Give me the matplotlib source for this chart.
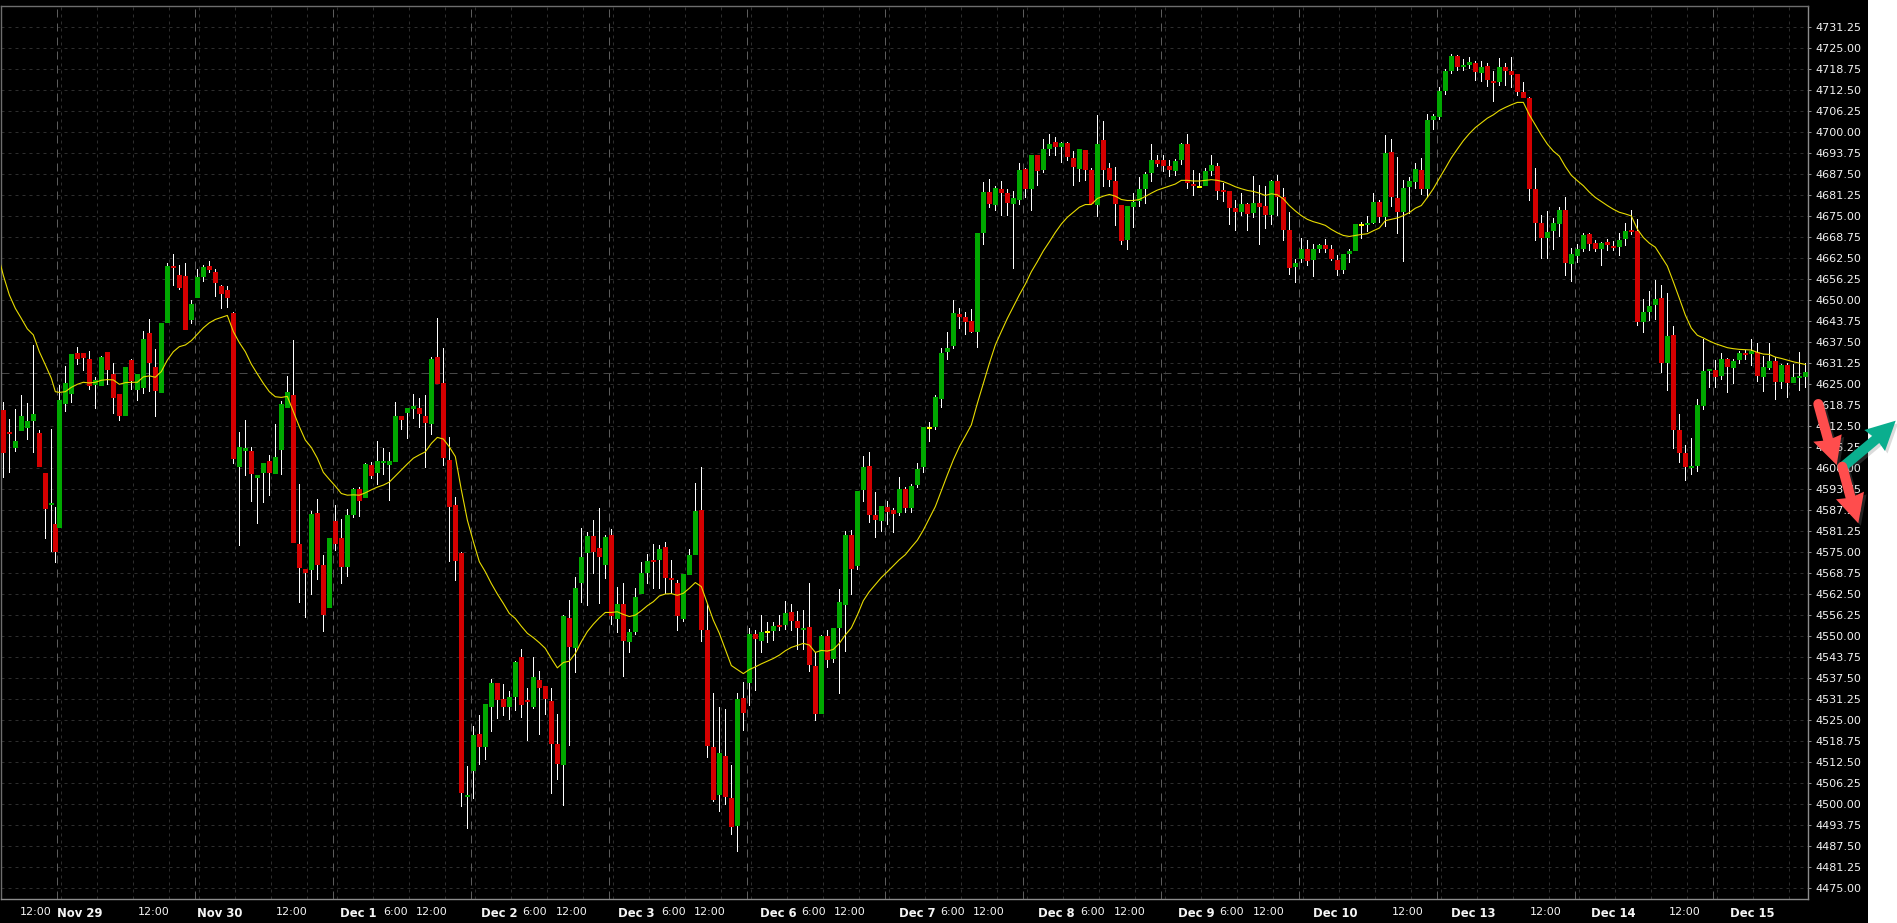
import numpy as np
import matplotlib
matplotlib.use("Agg")
import matplotlib.pyplot as plt
from matplotlib.lines import Line2D
from matplotlib.patches import Polygon, Rectangle

# ---------- data ----------
directions = ("RRGGGGRRGR" "GGGRRRGGRR" "RGRGGRRGGR" "RRGGGRRRRR" "GGRGGRGGGR"
              "RRGRRGRRGG" "RGRGGGGRGG" "RRGRRRRRGG" "RGGRRGGRRG" "RRRRGRGGGR"
              "RGRGRGGGGR" "GRRRGGGRRR" "GRRGRGRGYG" "RGRRGRRGRG" "GGRGGRRGRR"
              "GRGGGYGGGG" "RRRGGRGRRG" "GRGRGGRGRR" "GRRGRRRRGG" "GGGRRRGGRR"
              "YGGRRRRGRG" "RRGRRRGGRG" "GRRRGGGYGG" "RGRRGGGRGG" "GGGRGGRGRR"
              "GRRRRRRRGG" "GRGGGRRGRR" "GGRRGGGRGR" "RRGGGGRGRG" "GRGRGGRGRG"
              "GG")

body_top = [
 4617.4,4610.9,4608.1,4615.6,4614.1,4616.2,4610.5,4598.6,4589.7,4583.4,
 4620.3,4625.4,4634.0,4634.3,4634.3,4632.5,4626.3,4633.1,4634.6,4628.1,
 4622.1,4630.2,4632.2,4628.1,4638.5,4640.3,4630.2,4643.2,4660.2,4660.2,
 4657.5,4657.2,4648.9,4656.9,4659.9,4660.2,4658.4,4654.3,4653.1,4646.2,
 4606.3,4606.0,4605.2,4598.0,4601.6,4602.2,4603.4,4619.1,4622.7,4621.8,
 4577.5,4570.0,4586.4,4586.7,4571.2,4579.3,4584.3,4579.3,4586.1,4593.9,
 4593.9,4601.3,4601.0,4602.2,4602.2,4602.2,4615.6,4615.6,4618.0,4618.5,
 4618.0,4615.6,4632.5,4633.1,4625.4,4602.5,4589.1,4574.8,4502.8,4520.6,
 4520.9,4529.9,4536.1,4536.1,4531.3,4531.9,4542.4,4543.8,4531.0,4537.9,
 4537.0,4535.2,4530.7,4517.9,4556.0,4555.5,4564.4,4573.6,4579.9,4579.9,
 4576.3,4579.6,4580.2,4559.6,4559.6,4551.3,4561.7,4568.8,4572.4,4572.7,
 4576.0,4576.6,4567.3,4565.9,4568.5,4574.2,4587.3,4587.6,4551.9,4517.1,
 4515.3,4514.4,4501.9,4531.3,4531.6,4550.7,4550.7,4551.3,4551.5,4553.1,
 4553.4,4556.9,4557.2,4554.6,4552.5,4552.8,4541.2,4550.1,4550.1,4552.5,
 4560.2,4580.2,4580.2,4593.2,4600.4,4600.7,4586.1,4588.8,4588.5,4587.6,
 4593.8,4593.8,4594.7,4599.8,4612.3,4612.3,4621.2,4634.3,4635.8,4646.2,
 4645.9,4645.0,4643.8,4670.0,4682.2,4682.2,4683.4,4683.1,4681.9,4680.4,
 4688.8,4689.1,4693.2,4693.2,4695.0,4696.5,4697.1,4696.8,4696.8,4692.3,
 4695.0,4694.7,4688.8,4696.5,4697.7,4689.4,4685.5,4678.4,4678.1,4679.3,
 4683.1,4687.6,4691.8,4691.8,4691.8,4690.0,4691.5,4696.5,4696.5,4684.6,
 4684.0,4688.5,4690.3,4690.0,4682.8,4682.5,4677.5,4678.7,4678.7,4679.0,
 4679.0,4678.1,4685.5,4685.5,4680.7,4670.9,4661.1,4665.3,4665.3,4665.3,
 4666.5,4666.5,4665.3,4662.0,4663.8,4664.7,4672.7,4672.7,4673.0,4679.3,
 4679.3,4693.8,4694.1,4680.5,4683.4,4685.5,4689.1,4688.8,4703.7,4704.9,
 4712.3,4718.2,4722.7,4722.7,4720.0,4720.9,4720.6,4719.4,4719.7,4715.3,
 4719.4,4719.4,4718.2,4717.4,4712.0,4710.2,4683.1,4673.0,4670.3,4673.0,
 4676.9,4676.9,4663.8,4665.3,4669.4,4669.7,4667.1,4667.1,4667.4,4666.2,
 4668.0,4670.6,4670.9,4670.6,4646.5,4648.3,4650.4,4650.7,4639.4,4639.7,
 4611.4,4604.6,4600.7,4618.9,4629.0,4629.6,4629.3,4632.5,4632.5,4632.0,
 4634.3,4634.3,4634.9,4634.6,4630.2,4632.0,4632.0,4630.8,4630.8,4627.2,
 4627.5,4628.7]

body_bottom = [
 4604.7,4610.2,4606.0,4611.1,4612.0,4614.1,4600.4,4587.9,4589.1,4575.1,
 4582.2,4619.1,4622.1,4632.5,4632.8,4624.5,4624.8,4624.5,4629.3,4620.9,
 4615.6,4615.6,4625.9,4623.3,4623.9,4631.3,4623.0,4622.4,4643.2,4659.6,
 4653.7,4641.2,4644.1,4650.7,4656.9,4659.0,4655.2,4651.9,4650.7,4602.8,
 4600.4,4605.2,4598.3,4597.1,4598.6,4598.6,4598.3,4605.5,4618.0,4577.8,
 4570.3,4568.9,4569.7,4571.2,4556.4,4558.4,4577.5,4570.6,4570.6,4586.1,
 4590.3,4591.2,4597.7,4598.6,4601.6,4601.0,4601.9,4614.4,4616.5,4617.7,
 4616.2,4613.5,4613.2,4625.1,4603.1,4588.5,4572.4,4503.4,4502.2,4509.9,
 4517.1,4517.1,4529.0,4531.0,4529.0,4529.0,4531.9,4529.6,4530.4,4529.0,
 4534.6,4531.3,4517.9,4512.0,4511.7,4546.8,4546.5,4565.9,4574.8,4575.1,
 4573.6,4571.2,4556.0,4555.2,4548.6,4548.3,4551.3,4562.6,4568.8,4572.1,
 4572.7,4567.3,4566.8,4556.0,4555.2,4568.2,4574.2,4551.9,4517.4,4501.3,
 4502.8,4502.2,4493.2,4493.6,4527.2,4536.1,4549.2,4548.6,4551.0,4551.6,
 4552.8,4553.4,4554.6,4552.5,4551.9,4541.5,4526.9,4526.9,4543.0,4543.3,
 4552.5,4559.3,4570.0,4570.9,4593.5,4586.1,4584.6,4584.3,4587.0,4586.4,
 4586.7,4588.2,4588.2,4595.0,4600.4,4611.7,4612.3,4620.6,4634.6,4636.4,
 4645.0,4643.5,4640.6,4640.6,4670.0,4678.7,4678.4,4681.9,4679.0,4678.7,
 4679.9,4683.1,4683.1,4688.5,4688.8,4695.0,4695.6,4695.6,4692.6,4689.7,
 4689.1,4688.8,4678.7,4678.4,4688.8,4685.8,4678.7,4667.6,4667.9,4677.8,
 4679.6,4683.1,4687.9,4690.6,4690.0,4688.8,4688.5,4691.8,4684.9,4684.0,
 4683.4,4684.0,4688.5,4682.5,4682.2,4677.5,4676.3,4676.3,4675.7,4676.0,
 4677.8,4675.4,4675.4,4680.7,4670.9,4659.6,4659.9,4662.3,4661.7,4662.0,
 4665.3,4665.3,4662.3,4659.0,4659.0,4663.8,4664.7,4672.1,4672.4,4673.0,
 4674.8,4674.8,4680.8,4676.3,4676.3,4683.7,4685.2,4683.1,4683.1,4703.7,
 4704.6,4712.3,4718.2,4719.4,4719.4,4720.0,4718.0,4717.7,4715.6,4714.7,
 4715.0,4718.2,4717.1,4712.0,4710.2,4683.1,4673.0,4668.6,4668.6,4670.6,
 4672.7,4661.1,4660.8,4663.2,4665.3,4666.8,4665.3,4665.3,4666.5,4665.6,
 4665.9,4668.3,4670.3,4643.6,4643.6,4646.5,4648.6,4631.4,4631.4,4611.4,
 4604.6,4600.4,4600.1,4600.7,4618.6,4629.0,4627.2,4627.5,4630.2,4629.9,
 4632.2,4633.7,4634.0,4627.5,4627.2,4629.9,4625.7,4625.7,4625.4,4625.4,
 4626.9,4627.2]

highs = [
 4619.6,4614.7,4617.7,4621.8,4619.3,4636.7,4611.3,4598.6,4611.7,4588.4,
 4624.8,4630.3,4634.0,4636.1,4634.3,4634.9,4627.2,4633.4,4634.6,4631.3,
 4622.1,4630.2,4632.6,4628.1,4640.9,4644.4,4635.5,4643.2,4661.0,4663.8,
 4660.5,4661.1,4650.1,4659.3,4660.5,4661.7,4659.3,4654.6,4654.3,4646.5,
 4610.8,4614.4,4606.3,4598.0,4601.6,4604.0,4613.2,4620.0,4627.6,4638.2,
 4595.3,4570.0,4587.3,4590.9,4574.2,4579.3,4589.1,4584.9,4587.9,4594.0,
 4594.4,4601.6,4601.9,4608.1,4606.0,4604.9,4619.6,4615.6,4618.0,4622.1,
 4620.9,4621.8,4633.2,4644.7,4635.8,4609.3,4591.4,4575.1,4511.4,4523.3,
 4526.6,4529.9,4537.3,4536.1,4535.8,4533.7,4542.7,4546.2,4534.6,4543.8,
 4539.7,4535.2,4534.6,4526.9,4556.3,4560.8,4567.7,4582.2,4581.0,4584.6,
 4588.1,4580.2,4581.9,4564.7,4565.9,4552.2,4564.4,4572.1,4574.5,4577.5,
 4577.2,4578.1,4572.7,4566.8,4568.5,4576.0,4595.6,4600.4,4559.6,4533.1,
 4529.0,4528.4,4511.7,4533.1,4536.4,4552.5,4551.9,4556.3,4554.3,4554.3,
 4556.3,4560.5,4559.6,4557.5,4557.8,4565.9,4545.3,4550.4,4551.9,4552.5,
 4564.1,4581.3,4581.6,4593.2,4603.7,4604.9,4592.9,4588.8,4590.3,4588.2,
 4597.4,4594.4,4595.3,4601.6,4612.3,4613.8,4621.8,4635.8,4640.6,4650.1,
 4647.7,4646.5,4647.4,4670.0,4685.2,4686.1,4684.0,4685.5,4683.1,4682.5,
 4690.9,4689.4,4693.2,4693.2,4698.0,4699.5,4698.6,4697.1,4697.1,4694.4,
 4695.0,4694.7,4689.4,4705.1,4703.4,4690.9,4689.7,4678.4,4678.1,4681.9,
 4686.7,4688.2,4696.5,4693.2,4693.2,4691.8,4692.1,4696.8,4699.5,4688.8,
 4687.9,4689.4,4693.2,4690.9,4684.9,4682.5,4679.9,4681.9,4679.0,4687.0,
 4684.3,4684.0,4685.8,4687.3,4683.4,4676.3,4662.3,4668.5,4667.9,4666.8,
 4666.8,4668.2,4666.5,4663.5,4663.8,4665.3,4672.7,4673.3,4675.1,4681.9,
 4679.9,4699.2,4698.0,4692.7,4685.8,4686.7,4690.9,4692.4,4705.4,4705.4,
 4713.5,4718.8,4723.3,4723.0,4721.8,4722.4,4721.2,4721.2,4720.6,4718.2,
 4722.1,4720.6,4722.4,4717.4,4715.0,4710.5,4689.4,4675.4,4676.6,4674.5,
 4677.8,4680.8,4665.6,4666.8,4670.0,4670.0,4668.0,4667.4,4668.3,4667.7,
 4670.0,4673.0,4676.9,4674.2,4650.4,4652.8,4656.1,4654.6,4652.2,4642.4,
 4616.2,4606.9,4609.0,4620.6,4638.5,4629.6,4632.2,4634.3,4632.7,4632.5,
 4634.9,4635.2,4638.5,4637.3,4633.4,4637.3,4633.1,4631.1,4631.4,4631.1,
 4634.6,4631.4]

lows = [
 4597.1,4598.7,4604.9,4611.1,4608.4,4604.7,4600.3,4579.0,4575.1,4571.9,
 4582.2,4616.8,4619.3,4630.8,4629.0,4623.3,4617.7,4624.5,4624.8,4616.2,
 4614.1,4615.6,4623.3,4620.0,4622.1,4622.7,4615.3,4622.4,4643.2,4654.3,
 4653.1,4641.2,4643.0,4650.7,4655.5,4658.2,4651.0,4647.4,4647.6,4601.3,
 4577.0,4597.7,4590.0,4583.4,4589.7,4591.8,4598.3,4598.0,4618.0,4577.8,
 4559.9,4555.5,4562.3,4566.8,4551.3,4558.4,4575.4,4565.6,4567.7,4585.1,
 4585.5,4591.2,4596.8,4595.0,4598.0,4590.3,4601.9,4611.4,4608.7,4614.7,
 4612.0,4600.1,4609.9,4625.1,4600.7,4572.1,4566.5,4499.2,4492.7,4501.6,
 4511.7,4513.2,4521.5,4525.4,4526.3,4525.1,4527.8,4525.7,4518.8,4528.4,
 4520.6,4526.6,4503.1,4507.2,4499.5,4517.4,4539.1,4559.9,4559.0,4568.5,
 4559.6,4567.1,4553.4,4551.0,4537.9,4545.0,4550.4,4562.6,4565.6,4564.1,
 4564.1,4562.6,4562.6,4551.6,4554.3,4568.2,4574.2,4548.3,4513.8,4500.7,
 4497.7,4499.8,4490.9,4485.8,4521.8,4529.3,4533.7,4545.0,4548.0,4548.6,
 4551.6,4551.9,4551.6,4545.9,4545.9,4539.4,4524.8,4526.9,4540.6,4542.1,
 4532.8,4545.3,4562.3,4569.7,4590.0,4583.7,4579.3,4581.0,4583.1,4580.7,
 4585.8,4586.7,4586.7,4594.1,4598.7,4607.8,4611.4,4618.0,4632.2,4635.5,
 4641.5,4639.7,4640.3,4635.8,4666.5,4677.5,4676.6,4675.1,4675.1,4659.3,
 4678.4,4680.4,4676.6,4684.0,4687.9,4692.9,4692.9,4690.9,4691.5,4684.0,
 4685.2,4685.5,4678.7,4674.8,4683.7,4683.7,4672.1,4666.5,4665.0,4671.5,
 4677.8,4678.7,4685.2,4689.7,4688.2,4686.7,4687.0,4690.3,4683.1,4681.0,
 4683.4,4684.0,4687.0,4679.9,4679.3,4672.4,4670.6,4675.1,4670.6,4674.5,
 4666.5,4671.2,4672.4,4675.1,4667.6,4657.5,4655.2,4661.1,4660.2,4656.9,
 4664.1,4664.1,4661.7,4657.2,4657.8,4661.1,4664.7,4668.2,4670.3,4672.7,
 4673.0,4671.8,4677.8,4669.7,4661.4,4675.7,4683.1,4681.4,4680.5,4700.7,
 4703.7,4711.1,4717.4,4718.2,4718.2,4718.8,4715.3,4715.0,4713.5,4709.0,
 4713.8,4713.8,4713.2,4710.8,4710.2,4679.6,4667.7,4662.3,4662.3,4665.0,
 4668.9,4657.2,4655.5,4661.1,4664.4,4664.7,4664.4,4660.2,4664.7,4664.7,
 4663.2,4666.2,4669.4,4642.4,4640.3,4643.9,4644.2,4628.4,4623.0,4605.8,
 4601.6,4596.2,4598.0,4598.9,4617.4,4623.9,4623.9,4626.3,4622.4,4625.1,
 4631.1,4632.2,4630.5,4625.7,4622.7,4629.3,4620.3,4623.6,4620.9,4625.4,
 4623.0,4623.9]

ma_line = [
 4657.4,4651.6,4647.6,4644.6,4641.5,4639.7,4634.7,4630.8,4626.8,4622.8,
 4622.6,4622.8,4624.1,4625.0,4625.6,4625.4,4625.6,4626.2,4626.4,4626.3,
 4625.0,4625.5,4625.6,4625.6,4627.2,4627.5,4627.1,4628.8,4632.2,4634.7,
 4636.2,4636.7,4638.0,4639.9,4641.8,4643.3,4644.3,4644.9,4645.5,4640.7,
 4637.4,4634.7,4631.0,4628.1,4625.3,4622.8,4621.3,4621.1,4621.4,4616.9,
 4612.4,4608.4,4606.2,4603.0,4598.8,4596.7,4594.7,4592.5,4592.0,4592.1,
 4592.0,4592.7,4593.6,4594.4,4595.0,4595.9,4597.7,4599.5,4601.3,4603.0,
 4604.0,4604.9,4607.4,4609.2,4608.7,4606.4,4603.5,4593.6,4584.6,4578.2,
 4572.2,4569.2,4565.7,4562.6,4559.8,4556.8,4555.3,4553.0,4550.9,4549.6,
 4548.1,4546.4,4543.4,4540.6,4542.2,4542.6,4544.9,4548.4,4551.4,4553.6,
 4555.5,4557.1,4557.1,4557.3,4556.5,4555.9,4556.3,4557.6,4559.1,4560.3,
 4562.0,4562.6,4562.7,4562.2,4562.8,4564.3,4566.0,4564.8,4559.8,4554.8,
 4550.9,4546.1,4541.3,4540.1,4538.9,4540.1,4540.9,4541.8,4542.6,4543.4,
 4544.4,4545.7,4546.7,4547.3,4547.9,4547.4,4545.2,4545.8,4545.6,4546.1,
 4547.9,4550.4,4552.5,4556.3,4560.6,4563.3,4565.4,4567.5,4569.2,4571.0,
 4572.8,4574.3,4576.5,4578.6,4581.6,4585.1,4588.6,4593.3,4598.0,4602.5,
 4606.4,4609.6,4612.9,4619.3,4625.3,4631.2,4636.7,4640.7,4644.6,4648.1,
 4651.6,4654.8,4658.5,4661.5,4664.7,4667.4,4670.2,4672.7,4674.7,4676.2,
 4677.7,4678.5,4678.5,4680.3,4681.0,4681.5,4681.0,4680.0,4679.7,4679.7,
 4680.0,4680.9,4681.9,4682.8,4683.4,4684.0,4684.6,4685.7,4685.7,4685.5,
 4685.5,4685.7,4685.9,4685.7,4685.3,4684.6,4683.8,4683.2,4682.7,4682.4,
 4681.9,4681.2,4681.7,4681.4,4680.2,4678.2,4676.6,4675.2,4674.1,4673.4,
 4672.9,4672.3,4671.1,4670.1,4669.3,4669.0,4669.3,4669.6,4669.8,4670.7,
 4671.5,4673.7,4674.1,4674.5,4675.2,4676.1,4677.4,4678.2,4680.6,4683.2,
 4686.3,4689.3,4692.4,4695.0,4697.5,4699.6,4701.4,4702.8,4704.2,4705.2,
 4706.5,4707.4,4708.2,4708.9,4708.9,4705.2,4702.2,4699.2,4696.5,4694.4,
 4692.9,4689.8,4687.2,4685.6,4684.1,4682.2,4680.6,4679.4,4678.2,4677.1,
 4676.2,4675.7,4675.1,4671.2,4668.7,4667.0,4665.8,4663.0,4660.2,4655.5,
 4650.6,4645.6,4641.7,4639.6,4638.8,4637.9,4637.1,4636.5,4635.9,4635.6,
 4635.4,4635.3,4635.2,4634.5,4634.0,4633.9,4633.1,4632.7,4632.2,4631.7,
 4631.3,4630.9]
ma_lead_in = 4661.0
reference_level = 4628.25

x_labels = ["12:00","Nov 29","12:00","Nov 30","12:00","Dec 1","6:00","12:00",
            "Dec 2","6:00","12:00","Dec 3","6:00","12:00","Dec 6","6:00","12:00",
            "Dec 7","6:00","12:00","Dec 8","6:00","12:00","Dec 9","6:00","12:00",
            "Dec 10","12:00","Dec 13","12:00","Dec 14","12:00","Dec 15"]
x_label_pos = [6.11,13.44,25.71,36.68,48.71,59.89,66.11,72.03,83.28,89.28,95.36,
               106.11,112.44,118.44,129.78,135.78,141.78,152.94,158.94,164.94,
               176.11,182.28,188.39,199.44,205.44,211.5,222.61,234.69,245.69,
               257.78,268.94,280.94,292.11]
y_ticks = np.arange(4475, 4731.26, 6.25)

# ---------- layout ----------
W, H = 1897, 923
def fx(px): return px / W
def fy(py): return 1 - py / H

fig = plt.figure(figsize=(W / 100, H / 100), dpi=100, facecolor="white")
fig.add_artist(Rectangle((0, 0), fx(1868), 1, transform=fig.transFigure,
                         facecolor="black", edgecolor="none", zorder=-10))
ax = fig.add_axes([fx(1), fy(899), fx(1807), (899 - 6) / H], facecolor="black")

n = len(body_top)
offset = np.zeros(n)
offset[:9] = 2 / 3
offset[9] = 1 / 3
x = np.arange(n) + offset

tops = np.array(body_top); bots = np.array(body_bottom)
hi = np.array(highs); lo = np.array(lows)
colors = {"R": "#D40000", "G": "#00A800", "Y": "#FFFF00"}
bar_colors = [colors[d] for d in directions]

# grid
GRID = "#2e2e2e"
for v in y_ticks:
    ax.axhline(v, color=GRID, lw=0.72, ls=(0, (3, 4)), zorder=1)
day0, step = 9.556, 23
for k in range(13):
    ax.axvline(day0 + k * step, color="#5c5c5c", lw=0.72, ls=(0, (8, 6)), zorder=1.5)
    for off in (0.72, 6.72, 12.72, 18.72):
        ax.axvline(day0 + k * step + off, color=GRID, lw=0.72,
                   ls=(0, (3, 4)), zorder=1)
ax.axhline(reference_level, color="#484848", lw=0.72, ls=(0, (8, 6)), zorder=1.5)

# candles: wicks one pixel wide, bodies five pixels of a six pixel slot
ax.bar(x, hi - lo, bottom=lo, width=1 / 6, color="white", linewidth=0,
       antialiased=False, zorder=2)
ax.bar(x, np.maximum(tops - bots, 0.5), bottom=bots, width=5 / 6, color=bar_colors,
       linewidth=0, antialiased=False, zorder=3)
ax.plot(np.r_[0.15, x], np.r_[ma_lead_in, ma_line], color="#E8DC00", lw=0.8, zorder=4)

# axes
ax.set_xlim(0.67 / 6 + 1 / 6, (1808 + 0.67) / 6)
ax.set_ylim(4725 - (899 - 48.3) / 3.36, 4725 + (48.3 - 6) / 3.36)
for s in ax.spines.values():
    s.set_color("#6e6e6e"); s.set_linewidth(1)
ax.spines["right"].set_color("#8c8c8c")
ax.spines["bottom"].set_color("#8c8c8c")
ax.yaxis.tick_right()
ax.set_yticks(y_ticks)
ax.set_yticklabels([f"{v:.2f}" for v in y_ticks], fontsize=8.0, color="#f4f4f4",
                   family="DejaVu Sans")
ax.tick_params(axis="y", length=2.4, width=0.72, color="#8c8c8c", pad=3.2)
ax.set_xticks(x_label_pos)
ax.set_xticklabels(x_labels, fontsize=8.0, color="#f4f4f4", family="DejaVu Sans")
for t, s in zip(ax.get_xticklabels(), x_labels):
    if not s[0].isdigit():
        t.set_fontweight("bold")
        t.set_fontsize(8.4)
ax.tick_params(axis="x", length=0, pad=5.5)

# hand-drawn annotation arrows on top of the screenshot
def arrow(start, tip, barb1, barb2, color):
    start, tip, barb1, barb2 = map(np.array, (start, tip, barb1, barb2))
    notch = tip + 0.92 * ((barb1 + barb2) / 2 - tip)
    head = [barb1, tip, barb2, notch]
    for dx, c, a, z in ((2.5, "#808080", 0.28, 20), (0, color, 1, 21)):
        fig.add_artist(Line2D([fx(start[0] + dx), fx(notch[0] + dx)],
                              [fy(start[1] + dx), fy(notch[1] + dx)],
                              transform=fig.transFigure, color=c, alpha=a, lw=7.2,
                              solid_capstyle="round", zorder=z))
        fig.add_artist(Polygon([(fx(p[0] + dx), fy(p[1] + dx)) for p in head],
                               closed=True, transform=fig.transFigure, facecolor=c,
                               edgecolor="none", alpha=a, zorder=z))

arrow((1842.3, 467.3), (1895.7, 420.7), (1864.3, 430), (1885, 451), "#0AAE8E")
arrow((1818.3, 404), (1836.7, 465), (1813.3, 441.7), (1841.7, 434.3), "#FF4D4D")
arrow((1842.3, 466.7), (1858.3, 523.3), (1836, 499.3), (1864, 491.7), "#FF4D4D")

fig.savefig("out.png", dpi=100, facecolor=fig.get_facecolor())
